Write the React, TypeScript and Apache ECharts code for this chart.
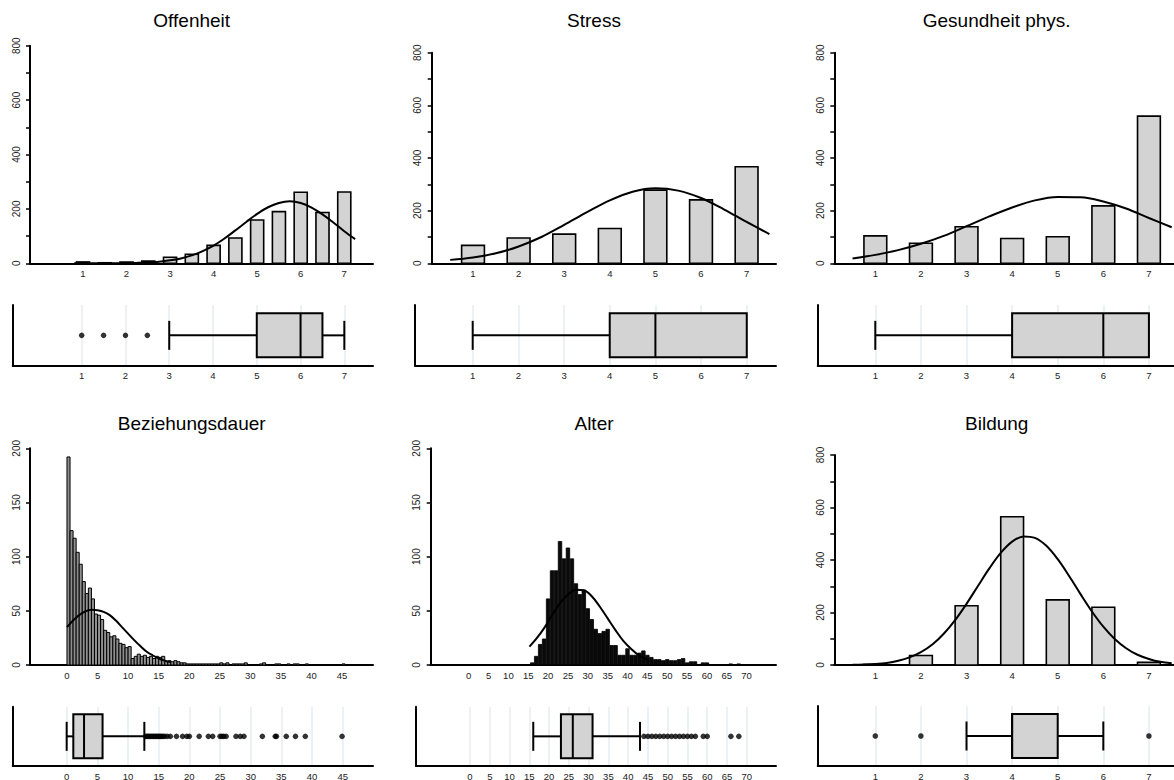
import React, { useEffect, useRef } from 'react';
import * as echarts from 'echarts';

// ---------- data ----------
const likertX = [1, 2, 3, 4, 5, 6, 7];

const offenheitX = [1, 1.5, 2, 2.5, 3, 3.5, 4, 4.5, 5, 5.5, 6, 6.5, 7];
const offenheitCounts = [5, 2, 5, 8, 22, 33, 66, 93, 159, 190, 261, 187, 262];
const offenheitCurveX = [
  0.8, 1, 1.25, 1.5, 1.75, 2, 2.25, 2.5, 2.75, 3, 3.25, 3.5, 3.75, 4, 4.25, 4.5, 4.75,
  5, 5.25, 5.5, 5.75, 6, 6.25, 6.5, 6.75, 7, 7.25,
];
const offenheitCurveY = [
  0, 0, 0, 0.2, 0.4, 0.8, 1.6, 3, 6, 11, 18, 29, 45, 65, 91, 121, 152,
  182, 206, 222, 228, 222, 205, 180, 150, 118, 89,
];
const offenheitBox = [3, 5, 6, 6.5, 7];
const offenheitOutliers = [1, 1.5, 2, 2.5];

const stressCounts = [68, 96, 111, 132, 278, 241, 367];
const stressCurveX = [0.5, 1, 1.5, 2, 2.5, 3, 3.5, 4, 4.5, 5, 5.5, 6, 6.5, 7, 7.5];
const stressCurveY = [13, 22, 38, 64, 100, 146, 194, 239, 272, 285, 276, 248, 205, 157, 111];
const stressBox = [1, 4, 5, 7, 7];
const stressOutliers: number[] = [];

const gesundCounts = [104, 76, 139, 94, 101, 218, 559];
const gesundCurveX = [0.5, 1, 1.5, 2, 2.5, 3, 3.5, 4, 4.5, 5, 5.5, 6, 6.5, 7, 7.5];
const gesundCurveY = [18, 32, 50, 74, 104, 141, 178, 212, 239, 252, 251, 235, 208, 172, 137];
const gesundBox = [1, 4, 6, 7, 7];
const gesundOutliers: number[] = [];

// Beziehungsdauer: bins of 0.5 years starting at 0
const bzBinStart = 0;
const bzBinWidth = 0.5;
const bzCounts = [
  192, 124, 117, 104, 93, 77, 66, 71, 61, 47,
  46, 42, 32, 30, 26, 27, 24, 20, 19, 16,
  17, 6, 8, 10, 8, 9, 7, 8, 6, 8,
  7, 8, 3, 4, 3, 4, 3, 2, 2, 1,
  1, 1, 1, 1, 1, 1, 1, 1, 1, 1,
  2, 1, 2, 0, 1, 1, 1, 1, 2, 0,
  0, 0, 0, 1, 2, 0, 0, 0, 1, 1,
  0, 0, 1, 0, 1, 1, 0, 0, 1, 0,
  0, 0, 0, 0, 0, 0, 0, 0, 0, 0, 1,
];
const bzCurveX = [0, 1, 2, 3, 4, 5, 6, 7, 8, 9, 10, 11, 12, 13, 14, 15, 16, 17];
const bzCurveY = [35, 41, 46, 49.5, 51, 50.5, 49, 46, 41, 35, 29, 23, 17.5, 12.5, 9, 6, 4, 2.5];
const bzBox = [0, 1.08, 2.83, 5.85, 12.66];
const bzOutliers = [
  12.9, 13.1, 13.3, 13.5, 13.7, 13.9, 14.1, 14.3, 14.5, 14.7, 14.9, 15.1, 15.3, 15.5, 15.7,
  16, 16.4, 16.9, 17.9, 18.9, 19.6, 20, 21.6, 23.1, 23.8, 25, 25.3, 25.6, 26, 27.6, 28.3, 28.9,
  31.9, 34, 34.2, 35.8, 37.3, 38.9, 44.9,
];

// Alter: one-year bins centred on the age
const alterAges = [
  16, 17, 18, 19, 20, 21, 22, 23, 24, 25, 26, 27, 28, 29, 30, 31, 32, 33, 34, 35,
  36, 37, 38, 39, 40, 41, 42, 43, 44, 45, 46, 47, 48, 49, 50, 51, 52, 53, 54, 55,
  56, 57, 58, 59, 60, 61, 62, 63, 64, 65, 66, 67, 68,
];
const alterCounts = [
  2, 8, 19, 24, 61, 87, 87, 114, 98, 108, 98, 75, 65, 69, 52, 42, 33, 29, 31, 33,
  18, 18, 9, 9, 15, 9, 9, 11, 13, 9, 7, 5, 5, 4, 5, 4, 4, 5, 6, 2,
  3, 3, 0, 2, 2, 0, 0, 0, 0, 0, 1, 0, 1,
];
const alterCurveX = [15.3, 17, 19, 21, 23, 25, 27, 29, 31, 33, 35, 37, 39, 41, 43, 45];
const alterCurveY = [17, 24, 34, 46, 57, 65, 69.5, 69, 63.5, 54, 43, 32, 22, 14.5, 8.5, 4.7];
const alterBox = [16, 23, 26, 31, 43];
const alterOutliers = [44, 45, 46, 47, 48, 49, 50, 51, 52, 53, 54, 55, 56, 57, 59, 60, 66, 68];

const bildungCounts = [2, 36, 226, 565, 248, 220, 10];
const bildungCurveX = [
  0.5, 0.75, 1, 1.25, 1.5, 1.75, 2, 2.25, 2.5, 2.75, 3, 3.25, 3.5, 3.75, 4, 4.25,
  4.5, 4.75, 5, 5.25, 5.5, 5.75, 6, 6.25, 6.5, 6.75, 7, 7.25, 7.5,
];
const bildungCurveY = [
  1, 2, 4, 8, 16, 29, 49, 78, 119, 171, 233, 301, 368, 427, 470, 490,
  484, 454, 403, 339, 270, 204, 146, 99, 64, 39, 23, 12, 6.5,
];
const bildungBox = [3, 4, 4, 5, 6];
const bildungOutliers = [1, 2, 7];

const bzTicks = [0, 5, 10, 15, 20, 25, 30, 35, 40, 45];
const alterTicks = [0, 5, 10, 15, 20, 25, 30, 35, 40, 45, 50, 55, 60, 65, 70];

const titles = ['Offenheit', 'Stress', 'Gesundheit phys.', 'Beziehungsdauer', 'Alter', 'Bildung'];

// ---------- layout / style ----------
const FONT = 'Liberation Sans, Arial, Helvetica, sans-serif';

type Panel = {
  title: string;
  tx: number;
  ty: number;
  centers: number[];
  counts: number[];
  barW: number;
  barFill: string;
  barLw: number;
  curveX: number[];
  curveY: number[];
  box: number[];
  outliers: number[];
  ticks: number[];
  hist: { l: number; r: number; t: number; b: number; xMin: number; xMax: number; yMax: number; yInt: number; yLab: number };
  bx: { l: number; r: number; t: number; b: number; xMin: number; xMax: number };
};

const bzCenters = bzCounts.map((_, i) => bzBinStart + bzBinWidth * i + bzBinWidth / 2);

const panels: Panel[] = [
  {
    title: titles[0], tx: 191.7, ty: 20.7,
    centers: offenheitX, counts: offenheitCounts, barW: 0.3, barFill: '#d3d3d3', barLw: 1.6,
    curveX: offenheitCurveX, curveY: offenheitCurveY, box: offenheitBox, outliers: offenheitOutliers, ticks: likertX,
    hist: { l: 30, r: 373, t: 45.7, b: 263.3, xMin: -0.216, xMax: 7.66, yMax: 800, yInt: 100, yLab: 200 },
    bx: { l: 12.7, r: 373, t: 305, b: 365.7, xMin: -0.576, xMax: 7.655 },
  },
  {
    title: titles[1], tx: 594, ty: 20.7,
    centers: likertX, counts: stressCounts, barW: 0.5, barFill: '#d3d3d3', barLw: 1.6,
    curveX: stressCurveX, curveY: stressCurveY, box: stressBox, outliers: stressOutliers, ticks: likertX,
    hist: { l: 431.7, r: 776, t: 52.7, b: 263.3, xMin: 0.094, xMax: 7.645, yMax: 800, yInt: 100, yLab: 200 },
    bx: { l: 415, r: 776, t: 305, b: 365.7, xMin: -0.263, xMax: 7.64 },
  },
  {
    title: titles[2], tx: 996.7, ty: 20.7,
    centers: likertX, counts: gesundCounts, barW: 0.5, barFill: '#d3d3d3', barLw: 1.6,
    curveX: gesundCurveX, curveY: gesundCurveY, box: gesundBox, outliers: gesundOutliers, ticks: likertX,
    hist: { l: 834.3, r: 1174, t: 52.7, b: 263.3, xMin: 0.1, xMax: 7.55, yMax: 800, yInt: 100, yLab: 200 },
    bx: { l: 817.7, r: 1174, t: 305, b: 365.7, xMin: -0.263, xMax: 7.55 },
  },
  {
    title: titles[3], tx: 191.7, ty: 423.3,
    centers: bzCenters, counts: bzCounts, barW: bzBinWidth, barFill: '#8f8f8f', barLw: 1,
    curveX: bzCurveX, curveY: bzCurveY, box: bzBox, outliers: bzOutliers, ticks: bzTicks,
    hist: { l: 30, r: 373, t: 448.3, b: 665, xMin: -6.05, xMax: 50.07, yMax: 200, yInt: 50, yLab: 50 },
    bx: { l: 12.7, r: 373, t: 706.7, b: 766, xMin: -8.8, xMax: 49.94 },
  },
  {
    title: titles[4], tx: 594, ty: 423.3,
    centers: alterAges, counts: alterCounts, barW: 0.88, barFill: '#0a0a0a', barLw: 0.8,
    curveX: alterCurveX, curveY: alterCurveY, box: alterBox, outliers: alterOutliers, ticks: alterTicks,
    hist: { l: 430.7, r: 776, t: 448.3, b: 665, xMin: -9.57, xMax: 77.4, yMax: 200, yInt: 50, yLab: 50 },
    bx: { l: 416, r: 776, t: 706.7, b: 766, xMin: -13.66, xMax: 77.4 },
  },
  {
    title: titles[5], tx: 996.7, ty: 423.3,
    centers: likertX, counts: bildungCounts, barW: 0.5, barFill: '#d3d3d3', barLw: 1.6,
    curveX: bildungCurveX, curveY: bildungCurveY, box: bildungBox, outliers: bildungOutliers, ticks: likertX,
    hist: { l: 834.3, r: 1174, t: 455, b: 665, xMin: 0.1, xMax: 7.55, yMax: 800, yInt: 100, yLab: 200 },
    bx: { l: 817.7, r: 1174, t: 706, b: 766, xMin: -0.263, xMax: 7.55 },
  },
];

const AXIS_LINE = { show: true, onZero: false, lineStyle: { color: '#000', width: 2 } };

function buildOption() {
  const grid: any[] = [];
  const xAxis: any[] = [];
  const yAxis: any[] = [];
  const series: any[] = [];
  const graphic: any[] = [];

  panels.forEach((p, i) => {
    const hi = i * 2;
    const bi = i * 2 + 1;
    const h = p.hist;
    const b = p.bx;
    grid.push({ left: h.l, top: h.t, width: h.r - h.l, height: h.b - h.t, outerBoundsMode: 'none', containLabel: false });
    grid.push({ left: b.l, top: b.t, width: b.r - b.l, height: b.b - b.t, outerBoundsMode: 'none', containLabel: false });

    xAxis.push({
      gridIndex: hi, type: 'value', min: h.xMin, max: h.xMax, position: 'bottom',
      axisLine: AXIS_LINE, axisTick: { show: false },
      axisLabel: { customValues: p.ticks, fontSize: 9.5, color: '#222', margin: 5, fontFamily: FONT },
      splitLine: { show: false },
    });
    xAxis.push({
      gridIndex: bi, type: 'value', min: b.xMin, max: b.xMax, position: 'bottom',
      axisLine: AXIS_LINE, axisTick: { show: false, customValues: p.ticks },
      axisLabel: { customValues: p.ticks, fontSize: 9.5, color: '#222', margin: 5, fontFamily: FONT },
      splitLine: { show: true, lineStyle: { color: '#e4ecf1', width: 1.5 } },
    });
    yAxis.push({
      gridIndex: hi, type: 'value', min: 0, max: h.yMax, interval: h.yInt,
      axisLine: AXIS_LINE,
      axisTick: { show: true, length: 4, lineStyle: { color: '#000', width: 1.5 } },
      axisLabel: {
        rotate: 90, fontSize: 10, color: '#222', margin: 9, fontFamily: FONT,
        formatter: (v: number) => (v % h.yLab === 0 ? String(v) : ''),
      },
      splitLine: { show: false },
    });
    yAxis.push({
      gridIndex: bi, type: 'value', min: 0, max: 1,
      axisLine: AXIS_LINE, axisTick: { show: false }, axisLabel: { show: false }, splitLine: { show: false },
    });

    // histogram bars
    const bw = p.barW;
    series.push({
      type: 'custom', xAxisIndex: hi, yAxisIndex: hi, z: 3,
      data: p.centers.map((c, k) => [c - bw / 2, c + bw / 2, p.counts[k]]),
      encode: { x: [0, 1], y: 2 },
      renderItem: (_params: any, api: any) => {
        const a = api.coord([api.value(0), api.value(2)]);
        const o = api.coord([api.value(1), 0]);
        return {
          type: 'rect',
          shape: { x: a[0], y: a[1], width: o[0] - a[0], height: o[1] - a[1] },
          style: { fill: p.barFill, stroke: '#000', lineWidth: p.barLw },
        };
      },
    });
    // normal curve
    series.push({
      type: 'line', xAxisIndex: hi, yAxisIndex: hi, z: 4, smooth: 0.35, symbol: 'none', silent: true,
      data: p.curveX.map((x, k) => [x, p.curveY[k]]),
      lineStyle: { color: '#000', width: 2 },
    });
    // boxplot
    series.push({
      type: 'custom', xAxisIndex: bi, yAxisIndex: bi, z: 3,
      data: [[...p.box, 0.5]],
      renderItem: (_params: any, api: any) => {
        const v = [0, 1, 2, 3, 4].map((k) => api.value(k));
        const yc = api.coord([v[2], api.value(5)])[1];
        const px = (val: number) => api.coord([val, 0.5])[0];
        const bh = 44;
        const ch = 29;
        const ls = { stroke: '#000', lineWidth: 2 };
        const children: any[] = [];
        if (v[0] < v[1]) {
          children.push({ type: 'line', shape: { x1: px(v[0]), y1: yc, x2: px(v[1]), y2: yc }, style: ls });
          children.push({ type: 'line', shape: { x1: px(v[0]), y1: yc - ch / 2, x2: px(v[0]), y2: yc + ch / 2 }, style: ls });
        }
        if (v[4] > v[3]) {
          children.push({ type: 'line', shape: { x1: px(v[3]), y1: yc, x2: px(v[4]), y2: yc }, style: ls });
          children.push({ type: 'line', shape: { x1: px(v[4]), y1: yc - ch / 2, x2: px(v[4]), y2: yc + ch / 2 }, style: ls });
        }
        children.push({
          type: 'rect',
          shape: { x: px(v[1]), y: yc - bh / 2, width: px(v[3]) - px(v[1]), height: bh },
          style: { fill: '#d3d3d3', stroke: '#000', lineWidth: 2 },
        });
        children.push({ type: 'line', shape: { x1: px(v[2]), y1: yc - bh / 2, x2: px(v[2]), y2: yc + bh / 2 }, style: ls });
        return { type: 'group', children };
      },
    });
    // outliers
    series.push({
      type: 'scatter', xAxisIndex: bi, yAxisIndex: bi, z: 4, symbol: 'circle', symbolSize: 5.5, silent: true,
      data: p.outliers.map((o) => [o, 0.5]),
      itemStyle: { color: '#000' },
    });

    graphic.push({
      type: 'text', x: p.tx, y: p.ty, silent: true,
      style: { text: p.title, font: `19px ${FONT}`, fill: '#000', textAlign: 'center', textVerticalAlign: 'middle' },
    });
  });

  return { animation: false, backgroundColor: '#fff', grid, xAxis, yAxis, series, graphic };
}

export default function App() {
  const ref = useRef<HTMLDivElement>(null);
  useEffect(() => {
    if (!ref.current) return;
    const chart = echarts.init(ref.current, undefined, { renderer: 'svg' });
    chart.setOption(buildOption() as any);
    return () => chart.dispose();
  }, []);
  return (
    <div
      ref={ref}
      style={{ position: 'absolute', left: 0, top: 0, width: 1174, height: 780, background: '#fff' }}
    />
  );
}
